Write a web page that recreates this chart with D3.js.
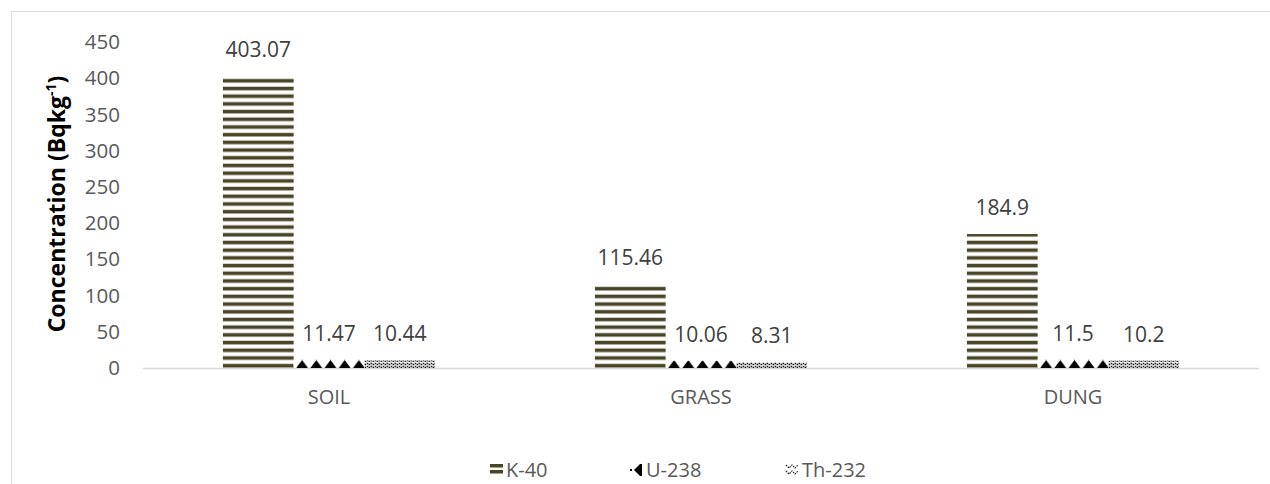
<!DOCTYPE html>
<html lang="en">
<head>
    <meta charset="UTF-8">
    <title>Concentration by sample</title>
    <script src="https://cdn.jsdelivr.net/npm/d3@7/dist/d3.min.js"></script>
    <style>
        body { margin: 0; background: #fff; }
        svg { display: block; font-family: "Open Sans", "Noto Sans", sans-serif; }
    </style>
</head>
<body>
    <svg id="chart" width="1270" height="484"></svg>
    <script>
        const categories = ["SOIL", "GRASS", "DUNG"];
        const series = ["K-40", "U-238", "Th-232"];
        const k40 = [403.07, 115.46, 184.9];
        const u238 = [11.47, 10.06, 11.5];
        const th232 = [10.44, 8.31, 10.2];
        const yTicks = [0, 50, 100, 150, 200, 250, 300, 350, 400, 450];

        const values = [k40, u238, th232];
        const rows = categories.map((c, i) => ({
            cat: c,
            bars: series.map((s, j) => ({ s, v: values[j][i] }))
        }));

        const svg = d3.select("#chart");
        const plotLeft = 143, plotRight = 1259, plotTop = 42, plotBottom = 368;

        // chart frame (runs off the right and bottom edges)
        svg.append("rect")
            .attr("x", 11.5).attr("y", 11.5)
            .attr("width", 1300).attr("height", 500)
            .attr("fill", "none").attr("stroke", "#d9d9d9");

        // fill patterns
        const defs = svg.append("defs");
        const pK = defs.append("pattern").attr("id", "pK")
            .attr("patternUnits", "userSpaceOnUse")
            .attr("width", 8).attr("height", 7.7).attr("y", plotBottom);
        pK.append("rect").attr("width", 8).attr("height", 7.7).attr("fill", "#fff");
        pK.append("rect").attr("y", 3.6).attr("width", 8).attr("height", 3.6).attr("fill", "#4a4528");

        const pU = defs.append("pattern").attr("id", "pU")
            .attr("patternUnits", "userSpaceOnUse")
            .attr("width", 14.2).attr("height", 16).attr("x", plotLeft + 80).attr("y", plotBottom);
        pU.append("rect").attr("width", 14.2).attr("height", 16).attr("fill", "#fff");
        pU.append("path").attr("d", "M7.1,8L13,16L1.2,16Z M1.2,0L13,0L7.1,8Z").attr("fill", "#000");

        const pT = defs.append("pattern").attr("id", "pT")
            .attr("patternUnits", "userSpaceOnUse")
            .attr("width", 8).attr("height", 6).attr("y", plotBottom);
        pT.append("rect").attr("width", 8).attr("height", 6).attr("fill", "#fff");
        pT.append("path").attr("d", "M0,1L2,3L4,1L6,3L8,1 M0,4L2,6L4,4L6,6L8,4")
            .attr("fill", "none").attr("stroke", "#111").attr("stroke-width", 1.1)
            .attr("stroke-dasharray", "2,0.8");

        const fills = { "K-40": "url(#pK)", "U-238": "url(#pU)", "Th-232": "url(#pT)" };

        const x0 = d3.scaleBand().domain(categories).range([plotLeft, plotRight]);
        const x1 = d3.scaleBand().domain(series).range([0, x0.bandwidth()]).paddingOuter(1.13);
        const y = d3.scaleLinear().domain([0, 450]).range([plotBottom, plotTop]);

        // y axis labels
        const yAxis = svg.append("g")
            .attr("transform", `translate(${plotLeft - 23},0)`)
            .call(d3.axisLeft(y).tickValues(yTicks).tickSize(0).tickPadding(0));
        yAxis.select(".domain").remove();
        yAxis.selectAll("text")
            .attr("fill", "#595959").attr("font-size", 20.5)
            .attr("font-family", "Open Sans, sans-serif");

        // baseline
        svg.append("line")
            .attr("x1", plotLeft).attr("x2", plotRight)
            .attr("y1", plotBottom + 0.5).attr("y2", plotBottom + 0.5)
            .attr("stroke", "#d9d9d9").attr("stroke-width", 1.3);

        // x axis labels
        const xAxis = svg.append("g")
            .attr("transform", `translate(0,${plotBottom + 22})`)
            .call(d3.axisBottom(x0).tickSize(0).tickPadding(0));
        xAxis.select(".domain").remove();
        xAxis.selectAll("text")
            .attr("fill", "#595959").attr("font-size", 20)
            .attr("font-family", "Open Sans, sans-serif");

        // bars
        const groups = svg.selectAll(".grp")
            .data(rows)
            .enter()
            .append("g")
            .attr("transform", d => `translate(${x0(d.cat)},0)`);

        groups.selectAll("rect")
            .data(d => d.bars)
            .enter()
            .append("rect")
            .attr("x", d => x1(d.s))
            .attr("y", d => y(d.v))
            .attr("width", x1.bandwidth())
            .attr("height", d => plotBottom - y(d.v))
            .attr("fill", d => fills[d.s]);

        groups.selectAll("text")
            .data(d => d.bars)
            .enter()
            .append("text")
            .attr("x", d => x1(d.s) + x1.bandwidth() / 2)
            .attr("y", d => y(d.v) - 19)
            .attr("text-anchor", "middle")
            .attr("fill", "#404040")
            .attr("font-size", 21)
            .text(d => d.v);

        // y title
        const title = svg.append("text")
            .attr("transform", "translate(65,204) rotate(-90)")
            .attr("text-anchor", "middle")
            .attr("font-size", 23)
            .attr("font-weight", "bold")
            .attr("fill", "#000");
        title.append("tspan").text("Concentration (Bqkg");
        title.append("tspan").attr("font-size", 14).attr("dy", -9).text("-1");
        title.append("tspan").attr("dy", 9).text(")");

        // legend
        const legendX = [490, 630, 786];
        const legend = svg.selectAll(".leg")
            .data(series)
            .enter()
            .append("g")
            .attr("transform", (d, i) => `translate(${legendX[i]},470)`);

        legend.filter(d => d === "K-40").each(function() {
            const g = d3.select(this);
            g.append("rect").attr("x", 0).attr("y", -6).attr("width", 13).attr("height", 3.5).attr("fill", "#4a4528");
            g.append("rect").attr("x", 0).attr("y", 0).attr("width", 13).attr("height", 3.5).attr("fill", "#4a4528");
        });
        legend.filter(d => d === "U-238").each(function() {
            const g = d3.select(this);
            g.append("rect").attr("x", 0).attr("y", -1).attr("width", 2).attr("height", 2).attr("fill", "#000");
            g.append("path").attr("d", "M4,0L10,-6L12,-6L12,6L10,6Z").attr("fill", "#000");
        });
        legend.filter(d => d === "Th-232").each(function() {
            const g = d3.select(this);
            g.append("path").attr("d", "M0,-5L3,-2L6,-5L9,-2L12,-5 M0,1L3,4L6,1L9,4L12,1")
                .attr("fill", "none").attr("stroke", "#222").attr("stroke-width", 1.2)
                .attr("stroke-dasharray", "1.5,1");
        });

        legend.append("text")
            .attr("x", 16)
            .attr("dy", "0.35em")
            .attr("fill", "#595959")
            .attr("font-size", 20)
            .text(d => d);
    </script>
</body>
</html>
